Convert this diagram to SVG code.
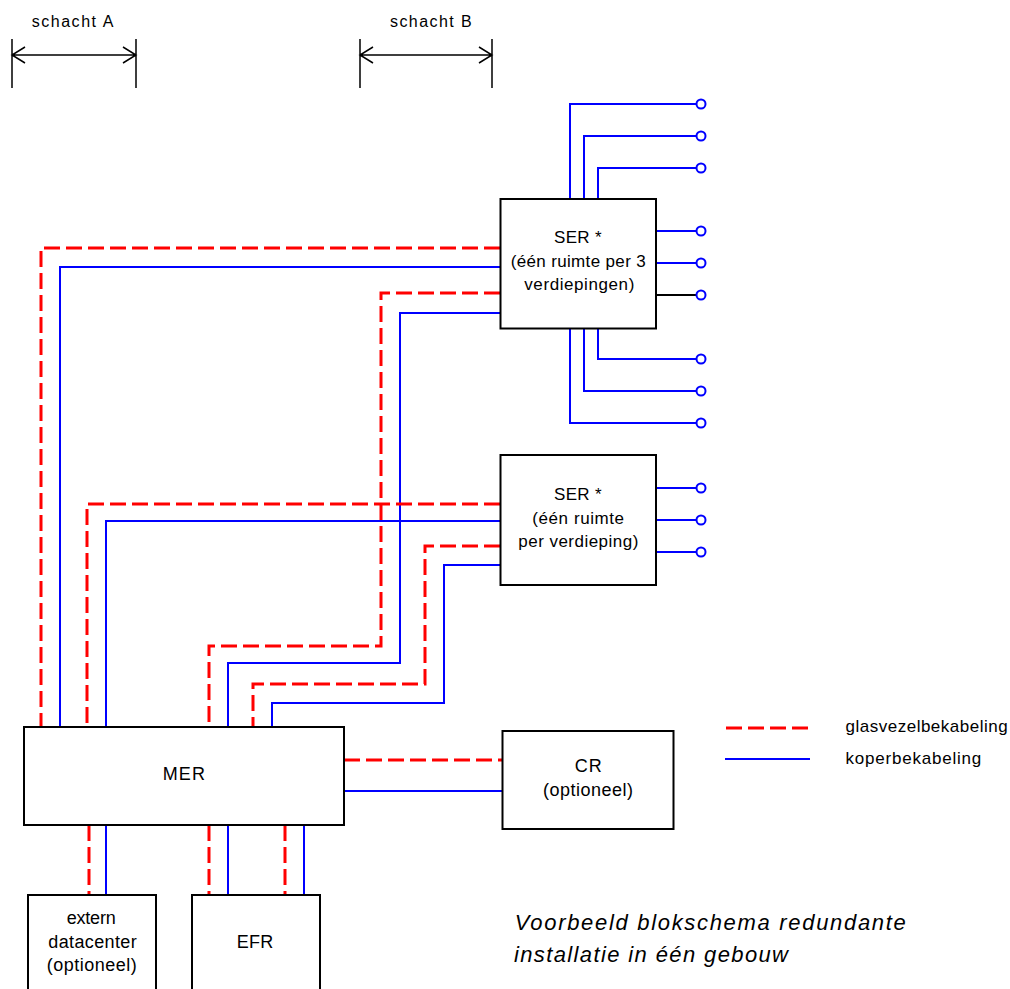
<svg xmlns="http://www.w3.org/2000/svg" width="1010" height="989" viewBox="0 0 1010 989">
<style>
.box{fill:#fff;stroke:#000;stroke-width:2}
.fib{fill:none;stroke:#ff0000;stroke-width:3;stroke-dasharray:16,6}
.cu{fill:none;stroke:#0000ff;stroke-width:2}
.bk{fill:none;stroke:#000;stroke-width:2}
.dim{fill:none;stroke:#000;stroke-width:1.5}
.term{fill:#fff;stroke:#0000ff;stroke-width:2}
text{font-family:"Liberation Sans",Arial,sans-serif;fill:#000}
.t15{font-size:16px}
.t16{font-size:17px}
.t17{font-size:18px}
.lg{font-size:17px}
.cap{font-size:22px;font-style:italic}
</style>
<rect width="1010" height="989" fill="#fff"/>
<g id="dimensions">
<path class="dim" d="M12,39V88M136,39V88M12,55H136M25,47L12,55L25,63M123,47L136,55L123,63"/>
<text class="t15" x="31.7" y="27.3" textLength="81.6" lengthAdjust="spacing">schacht A</text>
<path class="dim" d="M360,39V88M492,39V88M360,55H492M373,47L360,55L373,63M479,47L492,55L479,63"/>
<text class="t15" x="390" y="27.3" textLength="81.7" lengthAdjust="spacing">schacht B</text>
</g>
<g id="connectors">
<path class="fib" d="M500,248H41V727"/>
<path class="cu" d="M500,267H60V727"/>
<path class="fib" d="M500,293H381V646H209V727"/>
<path class="cu" d="M500,313H400V663H228V727"/>
<path class="fib" d="M500,504H87V727"/>
<path class="cu" d="M500,521H106V727"/>
<path class="fib" d="M500,546H425V684H253V727"/>
<path class="cu" d="M500,565H444V703H272V727"/>
<path class="fib" d="M344,760H502"/>
<path class="cu" d="M344,791H502"/>
<path class="fib" d="M89,825V895M209,825V895M285,825V895"/>
<path class="cu" d="M106,825V895M228,825V895M304,825V895"/>
<path class="cu" d="M570,199V104H696M584,199V136H696M598,199V168H696"/>
<path class="cu" d="M656,231H696M656,263H696"/>
<path class="bk" d="M656,295H696"/>
<path class="cu" d="M598,328V359H696M584,328V391H696M570,328V423H696"/>
<path class="cu" d="M656,488H696M656,520H696M656,552H696"/>
<circle class="term" cx="701" cy="104" r="4.5"/>
<circle class="term" cx="701" cy="136" r="4.5"/>
<circle class="term" cx="701" cy="168" r="4.5"/>
<circle class="term" cx="701" cy="231" r="4.5"/>
<circle class="term" cx="701" cy="263" r="4.5"/>
<circle class="term" cx="701" cy="295" r="4.5"/>
<circle class="term" cx="701" cy="359" r="4.5"/>
<circle class="term" cx="701" cy="391" r="4.5"/>
<circle class="term" cx="701" cy="423" r="4.5"/>
<circle class="term" cx="701" cy="488" r="4.5"/>
<circle class="term" cx="701" cy="520" r="4.5"/>
<circle class="term" cx="701" cy="552" r="4.5"/>
</g>
<g id="ser1">
<rect class="box" x="500.5" y="199" width="155.5" height="129.5"/>
<text class="t16" x="554" y="243" textLength="47.7" lengthAdjust="spacing">SER *</text>
<text class="t16" x="510.7" y="266.5" textLength="135" lengthAdjust="spacing">(één ruimte per 3</text>
<text class="t16" x="524.3" y="290" textLength="110" lengthAdjust="spacing">verdiepingen)</text>
</g>
<g id="ser2">
<rect class="box" x="500.5" y="455" width="155.5" height="130"/>
<text class="t16" x="554" y="500" textLength="47.7" lengthAdjust="spacing">SER *</text>
<text class="t16" x="532.3" y="523.5" textLength="91.7" lengthAdjust="spacing">(één ruimte</text>
<text class="t16" x="518.3" y="547" textLength="120" lengthAdjust="spacing">per verdieping)</text>
</g>
<g id="mer">
<rect class="box" x="24" y="727" width="320" height="98"/>
<text class="t17" x="162.7" y="780" textLength="42.3" lengthAdjust="spacing">MER</text>
</g>
<g id="cr">
<rect class="box" x="502.5" y="731" width="171" height="98"/>
<text class="t17" x="574.8" y="771.7" textLength="26.9" lengthAdjust="spacing">CR</text>
<text class="t17" x="543" y="796" textLength="90" lengthAdjust="spacing">(optioneel)</text>
</g>
<g id="extern">
<rect class="box" x="28" y="895" width="128" height="100"/>
<text class="t17" x="66.7" y="924" textLength="49" lengthAdjust="spacing">extern</text>
<text class="t17" x="48.3" y="947.7" textLength="88.4" lengthAdjust="spacing">datacenter</text>
<text class="t17" x="46.7" y="971" textLength="90" lengthAdjust="spacing">(optioneel)</text>
</g>
<g id="efr">
<rect class="box" x="192" y="895" width="128" height="100"/>
<text class="t17" x="236.7" y="947.7" textLength="36.6" lengthAdjust="spacing">EFR</text>
</g>
<g id="legend">
<path class="fib" d="M726,728H810"/>
<path class="cu" d="M725,759H810"/>
<text class="lg" x="845.6" y="732.3" textLength="162" lengthAdjust="spacing">glasvezelbekabeling</text>
<text class="lg" x="845.6" y="764" textLength="135.7" lengthAdjust="spacing">koperbekabeling</text>
</g>
<g id="caption">
<text class="cap" x="514.8" y="930" textLength="391" lengthAdjust="spacing">Voorbeeld blokschema redundante</text>
<text class="cap" x="514" y="961.7" textLength="274" lengthAdjust="spacing">installatie in één gebouw</text>
</g>
</svg>
